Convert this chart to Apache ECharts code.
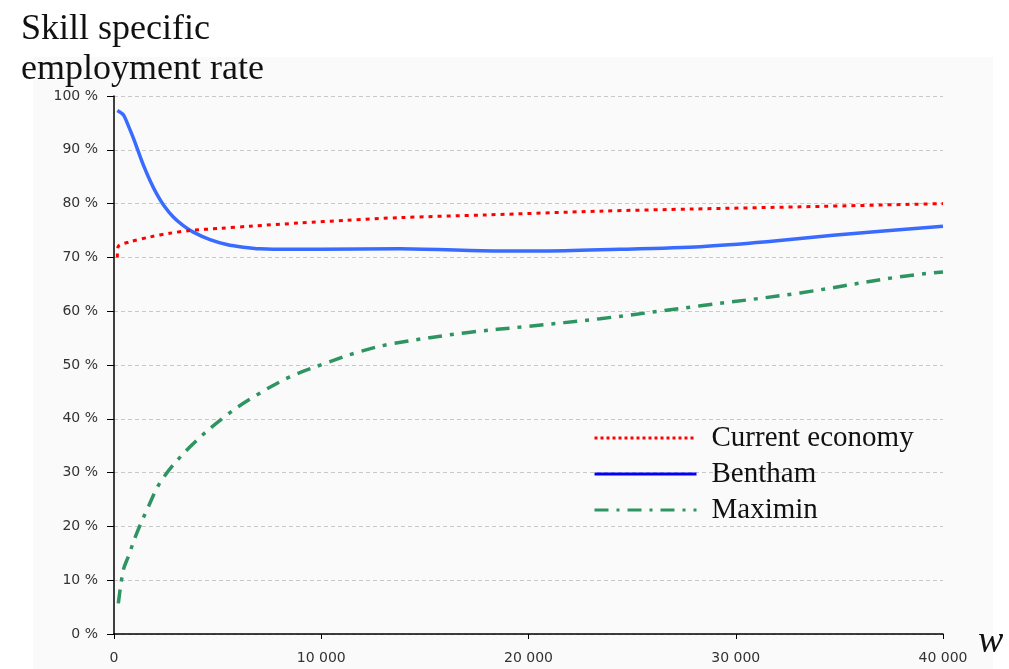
<!DOCTYPE html>
<html>
<head>
<meta charset="utf-8">
<script src="https://cdn.jsdelivr.net/npm/echarts@6/dist/echarts.min.js"></script>
<style>
html,body{margin:0;padding:0;background:#fff;}
#chart{width:1009px;height:669px;}
</style>
</head>
<body>
<div id="chart"></div>
<script>
// ---- data ----
var seriesNames = ['Current economy', 'Bentham', 'Maximin'];
var xTicks = [0, 10000, 20000, 30000, 40000];

var currentW    = [160, 200, 772, 1737, 2700, 3667, 5115, 6560, 8970, 11230, 13800, 18000, 23450, 28000, 33100, 40000];
var currentRate = [70.0, 72.0, 72.9, 73.8, 74.5, 75.0, 75.4, 75.8, 76.4, 76.9, 77.4, 77.9, 78.6, 79.0, 79.4, 80.0];

var benthamW    = [160, 449, 690, 931, 1172, 1414, 1737, 2060, 2379, 2861, 3344, 3826, 4632, 5438, 6239, 7045, 8500, 10000, 13800, 18300, 21000, 24400, 28300, 31500, 34700, 40000];
var benthamRate = [97.3, 96.5, 94.5, 92.2, 89.7, 87.2, 84.3, 81.8, 79.8, 77.5, 75.9, 74.7, 73.3, 72.4, 71.9, 71.6, 71.5, 71.5, 71.6, 71.2, 71.2, 71.5, 72.0, 72.9, 74.1, 75.8];

var maximinW    = [210, 450, 690, 1095, 1580, 2300, 3670, 5440, 6880, 8490, 10260, 11870, 13480, 17000, 20000, 23450, 28300, 33100, 37900, 40000];
var maximinRate = [5.7, 11.9, 14.4, 18.7, 23.0, 28.6, 34.8, 40.7, 44.4, 47.8, 50.4, 52.5, 54.0, 56.0, 57.2, 58.6, 61.0, 63.4, 66.4, 67.3];

function pairs(xs, ys){ return xs.map(function(x,i){ return [x, ys[i]]; }); }

var chart = echarts.init(document.getElementById('chart'), null, {renderer:'canvas'});
var serif = 'Liberation Serif';
var sans = 'DejaVu Sans';

chart.setOption({
  animation: false,
  backgroundColor: '#ffffff',
  graphic: [{
    type: 'rect', z: -10, silent: true,
    shape: {x: 33, y: 57, width: 960, height: 612},
    style: {fill: '#fafafa'}
  }],
  title: {
    text: 'Skill specific\nemployment rate',
    left: 16, top: 5,
    textStyle: {fontFamily: serif, fontSize: 36, fontWeight: 'normal', color: '#111', lineHeight: 40}
  },
  grid: {left: 114, right: 66, top: 96, bottom: 35, containLabel: false},
  legend: {
    orient: 'vertical',
    left: 593, top: 420, padding: 0,
    itemWidth: 102, itemHeight: 14, itemGap: 0,
    textStyle: {fontFamily: serif, fontSize: 29, color: '#111', lineHeight: 24, padding: [0, 0, 12, 10]},
    data: [
      {name: seriesNames[0], itemStyle: {opacity: 0}, lineStyle: {color: '#ff0000', width: 3, type: [3, 3]}},
      {name: seriesNames[1], itemStyle: {opacity: 0}, lineStyle: {color: '#0000ff', width: 3, type: 'solid'}},
      {name: seriesNames[2], itemStyle: {opacity: 0}, lineStyle: {color: '#2e9461', width: 3, type: [14, 8, 3, 8]}}
    ]
  },
  xAxis: {
    type: 'value', min: 0, max: 40000, interval: 10000,
    name: 'w', nameLocation: 'end', nameGap: 35,
    nameTextStyle: {fontFamily: serif, fontStyle: 'italic', fontSize: 38, color: '#111', verticalAlign: 'top', lineHeight: 16},
    axisLine: {show: true, onZero: false, lineStyle: {color: '#000', width: 1.5}},
    axisTick: {show: true, length: 5, inside: false, lineStyle: {color: '#000'}},
    axisLabel: {
      margin: 17, fontFamily: sans, fontSize: 14, color: '#333',
      formatter: function(v){ return v === 0 ? '0' : String(v).replace(/\B(?=(\d{3})+(?!\d))/g, ' '); }
    },
    splitLine: {show: false}
  },
  yAxis: {
    type: 'value', min: 0, max: 100, interval: 10,
    axisLine: {show: true, lineStyle: {color: '#000', width: 1.5}},
    axisTick: {show: true, length: 7, inside: false, lineStyle: {color: '#000'}},
    axisLabel: {margin: 16, fontFamily: sans, fontSize: 14, color: '#333', formatter: '{value} %'},
    splitLine: {show: true, lineStyle: {color: '#c8c8c8', type: [4, 3], width: 1}}
  },
  series: [
    {
      name: seriesNames[0], type: 'line', symbol: 'none', smooth: 0.3,
      data: pairs(currentW, currentRate),
      lineStyle: {color: '#ff0000', width: 3, type: [4, 5]},
      itemStyle: {color: '#ff0000'}, z: 3
    },
    {
      name: seriesNames[1], type: 'line', symbol: 'none', smooth: 0.25,
      data: pairs(benthamW, benthamRate),
      lineStyle: {color: '#3a6bff', width: 3.5, type: 'solid', join: 'round'},
      itemStyle: {color: '#3a6bff'}, z: 2
    },
    {
      name: seriesNames[2], type: 'line', symbol: 'none', smooth: 0.35,
      data: pairs(maximinW, maximinRate),
      lineStyle: {color: '#2e9461', width: 3.5, type: [14, 8, 4, 8]},
      itemStyle: {color: '#2e9461'}, z: 2
    }
  ]
});
</script>
</body>
</html>
